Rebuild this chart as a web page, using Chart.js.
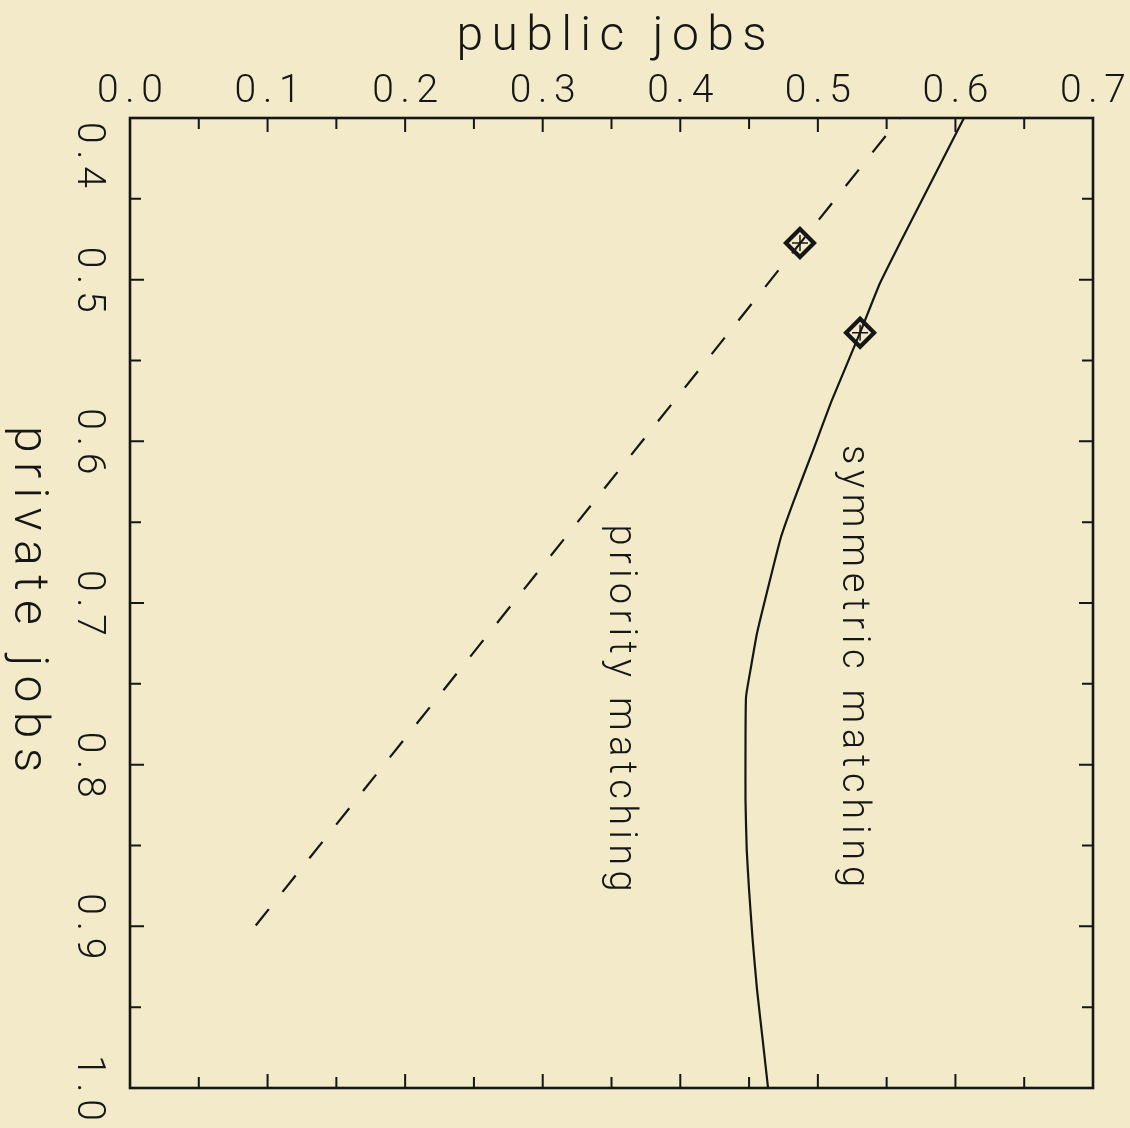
<!DOCTYPE html>
<html>
<head>
<meta charset="utf-8">
<script src="https://cdn.jsdelivr.net/npm/chart.js@4.4.1/dist/chart.umd.min.js"></script>
<style>
  html, body { margin: 0; padding: 0; background: #f2eac8; }
  #wrap { width: 1130px; height: 1128px; }
</style>
</head>
<body>
<div id="wrap"><canvas id="c" width="1130" height="1128"></canvas></div>
<script>
// ---- data ----
const xTitle = 'public jobs';
const yTitle = 'private jobs';
const xTickValues = [0.0, 0.1, 0.2, 0.3, 0.4, 0.5, 0.6, 0.7];
const xTickLabels = ['0.0', '0.1', '0.2', '0.3', '0.4', '0.5', '0.6', '0.7'];
const yTickValues = [0.4, 0.5, 0.6, 0.7, 0.8, 0.9, 1.0];
const yTickLabels = ['0.4', '0.5', '0.6', '0.7', '0.8', '0.9', '1.0'];

const symLabel = 'symmetric matching';
const symPublic  = [0.6062, 0.5757, 0.5597, 0.5452, 0.5307, 0.5103, 0.4958, 0.4827, 0.4732, 0.4616, 0.4558, 0.4514, 0.4478, 0.4474, 0.4474, 0.4483, 0.4500, 0.4526, 0.4558, 0.4599, 0.4638];
const symPrivate = [0.400, 0.4507, 0.4773, 0.5021, 0.5328, 0.5744, 0.6072, 0.6363, 0.6592, 0.6981, 0.7186, 0.7396, 0.7581, 0.7909, 0.8218, 0.8527, 0.8775, 0.9084, 0.9393, 0.9703, 1.000];

const priLabel = 'priority matching';
const priPublic  = [0.5597, 0.0909];
const priPrivate = [0.400, 0.900];

const markPublic  = [0.4870, 0.5307];
const markPrivate = [0.4773, 0.5328];

// ---- build ----
const toXY = (xs, ys) => xs.map((x, i) => ({ x: x, y: ys[i] }));
const INK = '#161616';
const FONT = 'Roboto, "DejaVu Sans", sans-serif';

// draw text char by char with given spacing, centred at (cx, cy) along the rotated baseline
function charText(ctx, text, cx, cy, rot, size, spacing) {
  ctx.save();
  ctx.font = '300 ' + size + 'px ' + FONT;
  ctx.textAlign = 'left';
  ctx.textBaseline = 'alphabetic';
  ctx.fillStyle = INK;
  const adv = Array.from(text).map(ch => ctx.measureText(ch).width);
  const total = adv.reduce((a, b) => a + b, 0) + spacing * (text.length - 1);
  ctx.translate(cx, cy);
  ctx.rotate(rot);
  let x = -total / 2;
  Array.from(text).forEach((ch, i) => { ctx.fillText(ch, x, 0); x += adv[i] + spacing; });
  ctx.restore();
  return total;
}
function spacingFor(ctx, text, size, target) {
  ctx.save();
  ctx.font = '300 ' + size + 'px ' + FONT;
  const sum = Array.from(text).reduce((a, ch) => a + ctx.measureText(ch).width, 0);
  ctx.restore();
  return (target - sum) / (text.length - 1);
}

const framePlugin = {
  id: 'frame',
  afterDatasetsDraw(chart) {
    const ctx = chart.ctx;
    const a = chart.chartArea;
    const xs = chart.scales.x, ys = chart.scales.y;
    ctx.save();
    ctx.strokeStyle = INK;
    ctx.lineWidth = 2.6;
    ctx.strokeRect(a.left, a.top, a.right - a.left, a.bottom - a.top);
    ctx.lineWidth = 2;
    for (let k = 0; k <= 14; k++) {
      const px = xs.getPixelForValue(k * 0.05);
      const len = (k % 2 === 0) ? 14 : 11;
      ctx.beginPath();
      ctx.moveTo(px, a.top); ctx.lineTo(px, a.top + len);
      ctx.moveTo(px, a.bottom); ctx.lineTo(px, a.bottom - len);
      ctx.stroke();
    }
    for (let k = 0; k <= 12; k++) {
      const py = ys.getPixelForValue(0.4 + k * 0.05);
      const len = (k % 2 === 0) ? 14 : 11;
      ctx.beginPath();
      ctx.moveTo(a.left, py); ctx.lineTo(a.left + len, py);
      ctx.moveTo(a.right, py); ctx.lineTo(a.right - len, py);
      ctx.stroke();
    }
    ctx.restore();

    // tick labels
    const tickSize = 39;
    const tickSp = spacingFor(ctx, '0.0', tickSize, 66);
    xTickValues.forEach((v, i) => {
      charText(ctx, xTickLabels[i], xs.getPixelForValue(v), 102, 0, tickSize, tickSp);
    });
    yTickValues.forEach((v, i) => {
      let py = ys.getPixelForValue(v);
      const half = 33;
      if (py - half < a.top + 4) py = a.top + 4 + half;
      charText(ctx, yTickLabels[i], 78, py, Math.PI / 2, tickSize, tickSp);
    });

    // axis titles
    charText(ctx, xTitle, (a.left + a.right) / 2, 50, 0, 48, spacingFor(ctx, xTitle, 48, 310));
    charText(ctx, yTitle, 15, 599, Math.PI / 2, 48, spacingFor(ctx, yTitle, 48, 346));

    // curve labels
    charText(ctx, symLabel, 843, 666, Math.PI / 2, 38, spacingFor(ctx, symLabel, 38, 442));
    charText(ctx, priLabel, 610, 708, Math.PI / 2, 38, spacingFor(ctx, priLabel, 38, 367));
  }
};

const bgPlugin = {
  id: 'bg',
  beforeDraw(chart) {
    const ctx = chart.ctx;
    ctx.save();
    ctx.fillStyle = '#f2eac8';
    ctx.fillRect(0, 0, chart.width, chart.height);
    ctx.restore();
  }
};

new Chart(document.getElementById('c'), {
  type: 'scatter',
  data: {
    datasets: [
      { label: symLabel, data: toXY(symPublic, symPrivate), showLine: true, borderColor: INK, borderWidth: 2.2, pointRadius: 0, tension: 0.15, fill: false },
      { label: priLabel, data: toXY(priPublic, priPrivate), showLine: true, borderColor: INK, borderWidth: 2.2, borderDash: [21, 22], borderDashOffset: 20, pointRadius: 0, tension: 0, fill: false },
      { label: 'markers', data: toXY(markPublic, markPrivate), showLine: false, pointStyle: 'rectRot', pointRadius: 14, pointBorderWidth: 4.2, pointBorderColor: INK, pointBackgroundColor: 'rgba(0,0,0,0)' },
      { label: 'cross', data: toXY(markPublic, markPrivate), showLine: false, pointStyle: 'cross', pointRadius: 8, pointBorderWidth: 1.5, pointBorderColor: INK, pointBackgroundColor: INK }
    ]
  },
  options: {
    responsive: false,
    devicePixelRatio: 1,
    animation: false,
    events: [],
    layout: { padding: { left: 130, top: 118, right: 37, bottom: 40 } },
    plugins: { legend: { display: false }, tooltip: { enabled: false }, title: { display: false } },
    scales: {
      x: { type: 'linear', min: 0, max: 0.7, display: false },
      y: { type: 'linear', min: 0.4, max: 1.0, reverse: true, display: false }
    }
  },
  plugins: [bgPlugin, framePlugin]
});
</script>
</body>
</html>
